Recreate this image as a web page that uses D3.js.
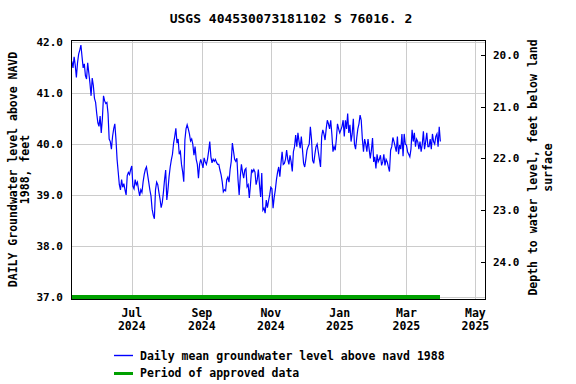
<!DOCTYPE html>
<html>
<head>
<meta charset="utf-8">
<script src="https://cdn.jsdelivr.net/npm/d3@7"></script>
<style>
  html, body { margin: 0; padding: 0; background: #fff; }
  svg { display: block; }
  text { font-family: "DejaVu Sans Mono", monospace; font-weight: bold; fill: #000; }
</style>
</head>
<body>
<svg id="chart" width="576" height="384"></svg>
<script>
// ---- data ----
const title = "USGS 404530073181102 S 76016. 2";
const startDate = "2024-05-09";           // first daily value
const approvedStart = "2024-05-08";
const approvedEnd = "2025-03-31";
const levels = [
  41.63, 41.5, 41.72, 41.55, 41.31, 41.6, 41.77, 41.85, 41.95, 41.72, 41.5,
  41.58, 41.35, 41.28, 41.6, 41.4, 41.2, 40.95, 41.3, 41.15, 40.9,
  40.82, 40.6, 40.42, 40.35, 40.55, 40.22, 40.5, 40.95, 40.85, 40.8, 40.82, 40.6,
  40.1, 40.05, 39.9, 40.15, 40.3, 40.4, 40.1, 39.7,
  39.45, 39.2, 39.1, 39.3, 39.15, 39.22, 39.1, 39.0, 39.38, 39.44,
  39.4, 39.5, 39.57, 39.17, 39.12, 39.3, 39.2, 39.25, 39.1, 38.98,
  39.1, 39.05, 39.25, 39.4, 39.5, 39.55, 39.4, 39.25, 39.1, 38.98,
  38.72, 38.6, 38.53, 39.1, 39.25, 39.2, 39.05, 38.92, 38.75, 38.85,
  39.05, 39.3, 39.49, 38.9, 39.1, 39.36, 39.55, 39.69,
  39.8, 40.02, 40.15, 40.31, 40.02, 40.1, 39.8, 39.85, 39.6, 39.46, 39.26, 40.08,
  40.3, 40.38, 40.3, 40.2, 40.06, 40.1, 40.0, 39.78, 39.95, 39.7,
  39.6, 39.33, 39.6, 39.7, 39.62, 39.53, 39.73, 39.65, 39.6, 39.7,
  39.86, 40.05, 39.75, 39.63, 39.7, 39.66, 39.7, 39.64, 39.6, 39.6,
  39.49, 39.4, 39.26, 39.06, 39.1, 39.08, 39.3, 39.35, 39.25, 39.5,
  39.66, 40.02, 39.86, 39.7, 39.66, 39.72, 39.3, 39.0, 39.36, 39.6,
  39.45, 39.33, 39.49, 39.52, 39.16, 39.2, 38.94, 39.2, 39.5, 39.45,
  39.5, 39.45, 39.2, 39.3, 39.5, 39.2, 38.96, 39.43, 38.7, 38.74,
  38.64, 38.9, 38.75, 38.88, 39.0, 39.15, 39.12, 38.74, 38.95, 39.1,
  39.3, 39.45, 39.55, 39.36, 39.62, 39.85, 39.6, 39.62, 39.7, 39.88,
  39.7, 39.6, 39.78, 39.65, 39.46, 39.85, 39.95, 40.18, 39.95, 40.22,
  40.05, 39.92, 40.15, 39.9, 39.62, 39.55, 39.7, 39.88, 39.95, 40.0,
  40.34, 40.1, 39.68, 39.62, 39.8, 39.95, 40.0, 39.85, 39.7, 39.55,
  40.15, 40.28, 40.2, 40.08, 40.3, 40.47, 40.4, 40.3, 40.47, 40.2,
  39.85, 39.95, 39.88, 40.1, 40.4, 40.3, 40.22, 40.28, 40.35, 40.47,
  40.15, 40.47, 40.3, 40.6, 40.22, 40.38, 40.05, 40.2, 40.5, 40.0,
  39.9, 40.12, 40.3, 40.4, 40.57, 40.47, 40.1, 39.85, 40.1, 40.0,
  39.85, 40.1, 39.9, 39.72, 39.88, 40.12, 39.65, 39.75, 39.52, 39.8,
  39.65, 39.7, 39.78, 39.58, 39.65, 39.8, 39.58, 39.7, 39.65, 39.55,
  39.46, 39.88, 39.95, 40.13, 40.05, 39.95, 39.85, 40.15, 39.8, 39.98,
  39.9, 40.2, 39.76, 40.2, 40.0, 39.98, 39.85, 39.8, 39.75, 39.9,
  40.28, 40.05, 40.22, 39.95, 40.1, 40.05, 39.9, 40.05, 39.85, 40.0,
  40.25, 39.9, 40.05, 40.22, 39.95, 39.95, 40.1, 39.9, 40.2, 40.05,
  40.0, 40.15, 40.2, 39.95, 40.34, 40.05
];
const leftTicks = [37.0, 38.0, 39.0, 40.0, 41.0, 42.0];
const rightTicks = [20.0, 21.0, 22.0, 23.0, 24.0];
const xTickDates = ["2024-07-01", "2024-09-01", "2024-11-01", "2025-01-01", "2025-03-01", "2025-05-01"];
const leftLabel = ["DAILY Groundwater level above NAVD", "1988, feet"];
const rightLabel = ["Depth to water level, feet below land", "surface"];
const legendItems = ["Daily mean groundwater level above navd 1988", "Period of approved data"];

// ---- layout ----
const parse = d3.utcParse("%Y-%m-%d");
const L = 71.3, R = 485, T = 40, B = 299;
const svg = d3.select("#chart");

const x = d3.scaleUtc()
  .domain([new Date(Date.UTC(2024, 4, 8, 12)), new Date(Date.UTC(2025, 4, 9, 12))])
  .range([L, R]);
const y = d3.scaleLinear().domain([36.951, 42.049]).range([B, T]);
const yR = d3.scaleLinear().domain([19.71, 24.72]).range([T, B]);

const start = parse(startDate);
const data = levels.map((v, i) => ({ date: d3.utcDay.offset(start, i), value: v }));

// gridlines
const grid = svg.append("g").attr("stroke", "#cccccc").attr("stroke-width", 1)
  .attr("shape-rendering", "crispEdges");
grid.selectAll("line.h").data(leftTicks).join("line")
  .attr("x1", L).attr("x2", R)
  .attr("y1", d => Math.round(y(d)) + 0.5).attr("y2", d => Math.round(y(d)) + 0.5);
grid.selectAll("line.v").data(xTickDates.map(parse)).join("line")
  .attr("y1", T).attr("y2", B)
  .attr("x1", d => Math.round(x(d)) + 0.5).attr("x2", d => Math.round(x(d)) + 0.5);

// approved period bar
svg.append("line")
  .attr("x1", x(parse(approvedStart))).attr("x2", x(parse(approvedEnd)))
  .attr("y1", y(37.0) + 0.5).attr("y2", y(37.0) + 0.5)
  .attr("stroke", "#00a000").attr("stroke-width", 4)
  .attr("shape-rendering", "crispEdges");

// data line
const line = d3.line().x(d => x(d.date)).y(d => y(d.value));
svg.append("path").datum(data)
  .attr("d", line).attr("fill", "none")
  .attr("stroke", "#0000ff").attr("stroke-width", 1.2);

// frame
svg.append("rect").attr("x", Math.round(L) + 0.5).attr("y", T + 0.5)
  .attr("width", Math.round(R - L)).attr("height", B - T)
  .attr("fill", "none").attr("stroke", "#000").attr("stroke-width", 1)
  .attr("shape-rendering", "crispEdges");

// left axis labels
svg.append("g").selectAll("text").data(leftTicks).join("text")
  .attr("x", 63).attr("y", d => y(d) + 4)
  .attr("text-anchor", "end").attr("font-size", 11)
  .text(d => d.toFixed(1));

// right axis ticks + labels
const rg = svg.append("g");
rg.selectAll("line").data(rightTicks).join("line")
  .attr("x1", R - 4).attr("x2", R)
  .attr("y1", d => Math.round(yR(d)) + 0.5).attr("y2", d => Math.round(yR(d)) + 0.5)
  .attr("stroke", "#000").attr("shape-rendering", "crispEdges");
rg.selectAll("text").data(rightTicks).join("text")
  .attr("x", 493).attr("y", d => yR(d) + 4)
  .attr("text-anchor", "start").attr("font-size", 11)
  .text(d => d.toFixed(1));

// x axis labels
const fmtM = d3.utcFormat("%b"), fmtY = d3.utcFormat("%Y");
const xg = svg.append("g").selectAll("g").data(xTickDates.map(parse)).join("g")
  .attr("transform", d => `translate(${x(d)},0)`);
xg.append("text").attr("y", 317).attr("text-anchor", "middle").attr("font-size", 11.5).text(d => fmtM(d));
xg.append("text").attr("y", 330).attr("text-anchor", "middle").attr("font-size", 11.5).text(d => fmtY(d));

// title
svg.append("text").attr("x", 291).attr("y", 23).attr("text-anchor", "middle")
  .attr("font-size", 13).text(title);

// axis titles
const cy = (T + B) / 2;
svg.append("text").attr("transform", `translate(17,${cy}) rotate(-90)`)
  .attr("text-anchor", "middle").attr("font-size", 11.5).text(leftLabel[0]);
svg.append("text").attr("transform", `translate(28.5,${cy}) rotate(-90)`)
  .attr("text-anchor", "middle").attr("font-size", 11.5).text(leftLabel[1]);
svg.append("text").attr("transform", `translate(537,${cy - 2}) rotate(-90)`)
  .attr("text-anchor", "middle").attr("font-size", 11.5).text(rightLabel[0]);
svg.append("text").attr("transform", `translate(551.5,${cy - 2}) rotate(-90)`)
  .attr("text-anchor", "middle").attr("font-size", 11.5).text(rightLabel[1]);

// legend
const lg = svg.append("g");
lg.append("line").attr("x1", 114).attr("x2", 133).attr("y1", 355.5).attr("y2", 355.5)
  .attr("stroke", "#0000ff").attr("stroke-width", 1.4);
lg.append("text").attr("x", 140).attr("y", 360).attr("font-size", 11.5).text(legendItems[0]);
lg.append("line").attr("x1", 114).attr("x2", 133).attr("y1", 373).attr("y2", 373)
  .attr("stroke", "#00a000").attr("stroke-width", 3).attr("shape-rendering", "crispEdges");
lg.append("text").attr("x", 140).attr("y", 377).attr("font-size", 11.5).text(legendItems[1]);
</script>
</body>
</html>
